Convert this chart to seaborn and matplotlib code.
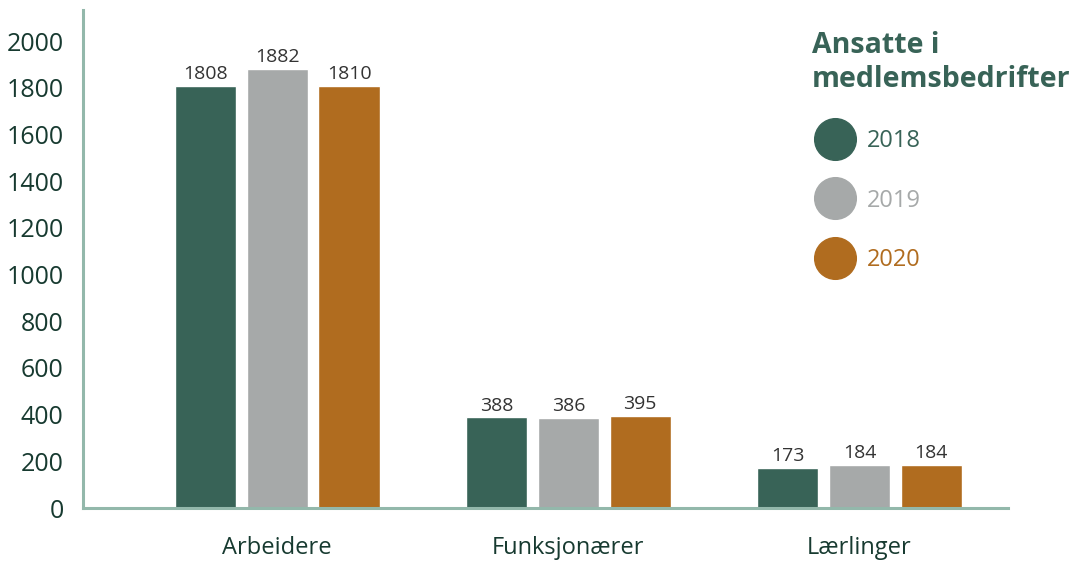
import pandas as pd
import seaborn as sns
import matplotlib.pyplot as plt
from matplotlib.lines import Line2D

kategorier = ["Arbeidere", "Funksjonærer", "Lærlinger"]
aar = ["2018", "2019", "2020"]
ansatte_2018 = [1808, 388, 173]
ansatte_2019 = [1882, 386, 184]
ansatte_2020 = [1810, 395, 184]
farger = ["#386357", "#a6a9a9", "#b06c1f"]

df = pd.DataFrame({
    "kategori": kategorier * 3,
    "aar": [a for a in aar for _ in kategorier],
    "antall": ansatte_2018 + ansatte_2019 + ansatte_2020,
})

sns.set_style("white")
plt.rcParams["font.family"] = ["Open Sans", "DejaVu Sans"]

fig = plt.figure(figsize=(10.78, 5.62), dpi=100)
ax = fig.add_axes([0.077, 0.096, 0.858, 0.886])

sns.barplot(data=df, x="kategori", y="antall", hue="aar", palette=farger,
            width=0.74, gap=0.15, saturation=1, legend=False, ax=ax)

for cont in ax.containers:
    ax.bar_label(cont, padding=2, fontsize=14, color="#333333")

ax.set_xlim(-0.667, 2.51)
ax.set_ylim(0, 2133)
ax.set_yticks(range(0, 2001, 200))
ax.set_xlabel("")
ax.set_ylabel("")
ax.tick_params(axis="y", length=0, pad=14, labelsize=18, labelcolor="#173a30")
ax.tick_params(axis="x", length=0, pad=20, labelsize=17, labelcolor="#173a30")

for side in ["top", "right"]:
    ax.spines[side].set_visible(False)
for side in ["left", "bottom"]:
    ax.spines[side].set_color("#93b8ab")
    ax.spines[side].set_linewidth(2.2)

handles = [Line2D([], [], marker="o", linestyle="", markersize=30,
                  markerfacecolor=c, markeredgecolor=c) for c in farger]
leg = ax.legend(handles, aar, title="Ansatte i\nmedlemsbedrifter",
                loc="upper left", bbox_to_anchor=(0.765, 1.0), frameon=False,
                alignment="left", fontsize=17, labelspacing=1.5,
                handletextpad=0.35, title_fontproperties={"size": 20.5, "weight": "bold"})
leg.get_title().set_color("#386357")
for txt, c in zip(leg.get_texts(), farger):
    txt.set_color(c)

fig.savefig("out.png", dpi=100)
